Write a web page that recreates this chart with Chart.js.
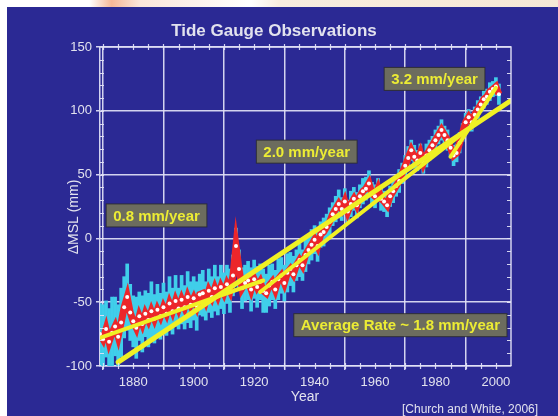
<!DOCTYPE html>
<html lang="en">
<head>
    <meta charset="UTF-8">
    <title>Tide Gauge Observations</title>
    <script src="https://cdn.jsdelivr.net/npm/chart.js"></script>
    <style>
        html, body {
            margin: 0;
            padding: 0;
            background: #ffffff;
        }
        canvas {
            display: block;
        }
    </style>
</head>
<body>
    <canvas id="tideChart" width="558" height="416"></canvas>
    <script>
        // annual mean sea level (mm)
        const years = [
            1869, 1870, 1871, 1872, 1873, 1874, 1875, 1876, 1877, 1878, 1879,
            1880, 1881, 1882, 1883, 1884, 1885, 1886, 1887, 1888, 1889,
            1890, 1891, 1892, 1893, 1894, 1895, 1896, 1897, 1898, 1899,
            1900, 1901, 1902, 1903, 1904, 1905, 1906, 1907, 1908, 1909,
            1910, 1911, 1912, 1913, 1914, 1915, 1916, 1917, 1918, 1919,
            1920, 1921, 1922, 1923, 1924, 1925, 1926, 1927, 1928, 1929,
            1930, 1931, 1932, 1933, 1934, 1935, 1936, 1937, 1938, 1939,
            1940, 1941, 1942, 1943, 1944, 1945, 1946, 1947, 1948, 1949,
            1950, 1951, 1952, 1953, 1954, 1955, 1956, 1957, 1958, 1959,
            1960, 1961, 1962, 1963, 1964, 1965, 1966, 1967, 1968, 1969,
            1970, 1971, 1972, 1973, 1974, 1975, 1976, 1977, 1978, 1979,
            1980, 1981, 1982, 1983, 1984, 1985, 1986, 1987, 1988, 1989,
            1990, 1991, 1992, 1993, 1994, 1995, 1996, 1997, 1998, 1999, 2000, 2001
        ];
        const msl = [
            -75, -79, -71, -81, -74, -69, -77, -66, -54, -46, -58,
            -65, -70, -61, -67, -59, -64, -57, -63, -56, -61,
            -54, -59, -51, -57, -49, -55, -48, -54, -46, -52,
            -47, -53, -44, -43, -49, -41, -46, -39, -45, -38,
            -43, -36, -41, -29, -6, -24, -39, -35, -33, -40,
            -32, -38, -34, -41, -43, -37, -34, -40, -32, -29,
            -35, -27, -24, -28, -21, -17, -21, -13, -9, -5,
            -1, -6, 3, 5, 9, 13, 19, 23, 27, 23,
            29, 21, 27, 31, 26, 33, 37, 39, 43, 35,
            33, 39, 31, 29, 26, 33, 37, 41, 45, 51,
            57, 63, 69, 64, 61, 67, 59, 65, 69, 73,
            77, 81, 85, 81, 77, 71, 65, 67, 75, 83,
            91, 95, 91, 97, 101, 105, 109, 111, 115, 117, 119, 113
        ];
        // half width of the error bars (mm)
        const mslErr = [
            24, 27, 22, 26, 28, 23, 25, 27, 24, 26, 22,
            20, 24, 19, 22, 18, 21, 23, 19, 20, 18,
            19, 17, 21, 18, 20, 16, 19, 17, 20, 18,
            17, 19, 16, 18, 15, 17, 16, 18, 15, 17,
            16, 15, 17, 16, 14, 15, 16, 14, 15, 17,
            15, 16, 14, 17, 15, 16, 14, 15, 16, 14,
            14, 15, 13, 14, 12, 13, 12, 13, 11, 12,
            11, 12, 10, 11, 10, 11, 9, 10, 11, 9,
            10, 9, 10, 9, 10, 9, 10, 9, 10, 9,
            9, 8, 9, 8, 9, 8, 9, 8, 9, 8,
            8, 9, 8, 9, 8, 7, 8, 9, 8, 7,
            8, 7, 8, 7, 8, 7, 8, 7, 8, 7,
            7, 6, 7, 6, 7, 6, 7, 6, 7, 6, 7, 8
        ];

        // fitted trend lines [year, mm]
        const trendEarly = [[1869, -78], [1923, -33]];
        const trendMid = [[1922, -42], [1991, 86]];
        const trendRecent = [[1985, 64], [2000, 118]];
        const trendAverage = [[1875, -97], [2005, 108]];

        const rateLabels = ['0.8 mm/year', '2.0 mm/year', '3.2 mm/year', 'Average Rate ~ 1.8 mm/year'];

        const xTicks = [1880, 1900, 1920, 1940, 1960, 1980, 2000];
        const yTicks = [-100, -50, 0, 50, 100, 150];

        const FONT = '"Liberation Sans", Arial, sans-serif';
        const BLUE = 'rgb(43, 41, 148)';
        const GRID = 'rgba(226, 226, 246, 0.92)';
        const TEXT = 'rgb(226, 226, 238)';
        const YELLOW = 'rgb(240, 240, 36)';

        const toPts = pairs => pairs.map(p => ({ x: p[0], y: p[1] }));

        const slidePlugin = {
            id: 'slide',
            beforeDraw(chart) {
                const ctx = chart.ctx;
                ctx.save();
                ctx.fillStyle = '#ffffff';
                ctx.fillRect(0, 0, chart.width, chart.height);
                // header strip of the slide
                const g = ctx.createLinearGradient(0, 0, chart.width, 0);
                g.addColorStop(0, '#ffffff');
                g.addColorStop(0.16, '#ffffff');
                g.addColorStop(0.2, '#f6b898');
                g.addColorStop(0.25, '#fbe6da');
                g.addColorStop(0.45, '#ffffff');
                g.addColorStop(0.5, '#f8eddf');
                g.addColorStop(1, '#f6e8d6');
                ctx.fillStyle = g;
                ctx.fillRect(0, 0, chart.width, 7);
                ctx.fillStyle = BLUE;
                ctx.fillRect(7, 7, chart.width - 7, chart.height - 7);
                ctx.restore();
            },
            afterDraw(chart, args, opts) {
                const ctx = chart.ctx;
                const a = chart.chartArea;
                const xs = chart.scales.x;
                const ys = chart.scales.y;
                ctx.save();

                // top and right frame
                ctx.strokeStyle = GRID;
                ctx.lineWidth = 1.5;
                ctx.beginPath();
                ctx.moveTo(a.left, a.top);
                ctx.lineTo(a.right, a.top);
                ctx.lineTo(a.right, a.bottom);
                ctx.stroke();

                // minor ticks
                ctx.lineWidth = 1.2;
                ctx.beginPath();
                for (let yr = 1870; yr < 2005; yr += 5) {
                    const px = Math.round(xs.getPixelForValue(yr)) + 0.5;
                    ctx.moveTo(px, a.bottom - 3);
                    ctx.lineTo(px, a.bottom + 3);
                    ctx.moveTo(px, a.top - 3);
                    ctx.lineTo(px, a.top + 3);
                }
                for (let v = -90; v < 150; v += 10) {
                    const py = Math.round(ys.getPixelForValue(v)) + 0.5;
                    ctx.moveTo(a.left, py);
                    ctx.lineTo(a.left + 4, py);
                    ctx.moveTo(a.right - 4, py);
                    ctx.lineTo(a.right, py);
                }
                ctx.stroke();

                // titles
                ctx.fillStyle = TEXT;
                ctx.textAlign = 'center';
                ctx.textBaseline = 'middle';
                ctx.font = 'bold 17px ' + FONT;
                ctx.fillText('Tide Gauge Observations', 274, 31);
                ctx.font = '14px ' + FONT;
                ctx.fillText('Year', 305, 397);
                ctx.save();
                ctx.translate(74, 217);
                ctx.rotate(-Math.PI / 2);
                ctx.fillText('\u0394MSL (mm)', 0, 0);
                ctx.restore();
                ctx.font = '12px ' + FONT;
                ctx.textAlign = 'left';
                ctx.fillText('[Church and White, 2006]', 402, 410);

                // rate labels
                ctx.font = 'bold 15px ' + FONT;
                ctx.textAlign = 'center';
                opts.anchors.forEach((pos, i) => {
                    const cx = xs.getPixelForValue(pos[0]);
                    const cy = ys.getPixelForValue(pos[1]);
                    const w = ctx.measureText(rateLabels[i]).width + 14;
                    const h = 23;
                    ctx.fillStyle = 'rgb(108, 108, 94)';
                    ctx.fillRect(cx - w / 2, cy - h / 2, w, h);
                    ctx.strokeStyle = 'rgba(40, 40, 40, 0.8)';
                    ctx.lineWidth = 1;
                    ctx.strokeRect(cx - w / 2, cy - h / 2, w, h);
                    ctx.fillStyle = 'rgb(236, 236, 52)';
                    ctx.fillText(rateLabels[i], cx, cy + 1);
                });
                ctx.restore();
            }
        };

        const trendLine = (pairs, width) => ({
            type: 'line',
            data: toPts(pairs),
            borderColor: YELLOW,
            borderWidth: width,
            pointRadius: 0,
            borderCapStyle: 'round',
            order: 0
        });

        const ctx = document.getElementById('tideChart').getContext('2d');
        new Chart(ctx, {
            type: 'bar',
            data: {
                datasets: [
                    trendLine(trendAverage, 5),
                    trendLine(trendEarly, 4),
                    trendLine(trendMid, 4),
                    trendLine(trendRecent, 4),
                    {
                        type: 'line',
                        label: 'MSL',
                        data: years.map((yr, i) => ({ x: yr, y: msl[i] })),
                        borderColor: 'rgb(236, 38, 42)',
                        borderWidth: 7,
                        pointRadius: 2,
                        pointBorderWidth: 0,
                        pointBackgroundColor: '#ffffff',
                        order: 1
                    },
                    {
                        type: 'bar',
                        label: 'error',
                        data: years.map((yr, i) => ({ x: yr, y: [msl[i] - mslErr[i], msl[i] + mslErr[i]] })),
                        backgroundColor: 'rgb(64, 206, 234)',
                        borderWidth: 0,
                        barPercentage: 1,
                        categoryPercentage: 1,
                        grouped: false,
                        order: 2
                    }
                ]
            },
            options: {
                responsive: false,
                animation: false,
                devicePixelRatio: 1,
                layout: { padding: { top: 47, right: 47, left: 0, bottom: 0 } },
                plugins: {
                    legend: { display: false },
                    tooltip: { enabled: false },
                    slide: {
                        anchors: [[1887.7, 18], [1937.4, 68], [1979.7, 125], [1968.4, -68]]
                    }
                },
                scales: {
                    x: {
                        type: 'linear',
                        min: 1869,
                        max: 2005,
                        offset: false,
                        afterBuildTicks: axis => { axis.ticks = xTicks.map(v => ({ value: v })); },
                        afterFit: axis => { axis.height = 50; },
                        grid: { color: GRID, lineWidth: 1.5, tickLength: 4, tickColor: GRID },
                        border: { color: GRID, width: 1.5 },
                        ticks: {
                            color: TEXT,
                            font: { family: FONT, size: 13 },
                            padding: 5,
                            maxRotation: 0,
                            autoSkip: false,
                            callback: v => String(v)
                        }
                    },
                    y: {
                        min: -100,
                        max: 150,
                        afterBuildTicks: axis => { axis.ticks = yTicks.map(v => ({ value: v })); },
                        afterFit: axis => { axis.width = 100; },
                        grid: { color: GRID, lineWidth: 1.5, tickLength: 4, tickColor: GRID },
                        border: { color: GRID, width: 1.5 },
                        ticks: {
                            color: TEXT,
                            font: { family: FONT, size: 13 },
                            padding: 4,
                            callback: v => String(v)
                        }
                    }
                }
            },
            plugins: [slidePlugin]
        });
    </script>
</body>
</html>
